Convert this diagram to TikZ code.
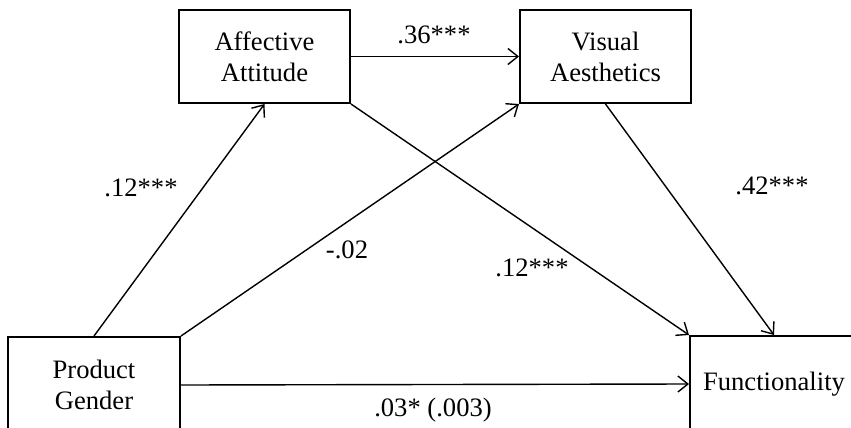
\documentclass[tikz,border=0pt]{standalone}
\usepackage{fontspec}
\setmainfont{Liberation Serif}
\usepackage{tikz}
\usetikzlibrary{arrows.meta}

\begin{document}
\begin{tikzpicture}[x=0.5pt, y=-0.5pt, >={Straight Barb[length=5pt,width=8pt]},
                        var/.style = {draw, line width=1pt, rectangle, align=center, inner sep=0pt, font=\fontsize{13.3}{15.5}\selectfont},
                        path/.style = {->, line width=0.7pt},
                        coef/.style = {font=\fontsize{13.3}{15.5}\selectfont, inner sep=0pt}]

        \useasboundingbox (0,0) rectangle (851,428);

        % variables
        \node[var, minimum width=85.5pt, minimum height=46.5pt] (aff) at (264.5, 56.5) {Affective\\Attitude};
        \node[var, minimum width=85.5pt, minimum height=46.5pt] (vis) at (605.5, 56.5) {Visual\\Aesthetics};
        \node[var, minimum width=86pt, minimum height=48pt] (pg) at (94, 385) {Product\\Gender};
        \node[var, minimum width=84pt, minimum height=48pt] (fun) at (774, 384) {Functionality};

        % paths
        \draw[path] (pg.north) -- (aff.south);
        \draw[path] (pg.north east) -- (vis.south west);
        \draw[path] (aff.east) -- (vis.west);
        \draw[path] (aff.south east) -- (fun.north west);
        \draw[path] (vis.south) -- (fun.north);
        \draw[path] (pg.east) -- (fun.west);

        % coefficients
        \node[coef] (c1) at (141, 188) {.12***};
        \node[coef] (c2) at (347, 250) {-.02};
        \node[coef] (c3) at (434, 35) {.36***};
        \node[coef] (c4) at (532, 268) {.12***};
        \node[coef] (c5) at (772, 186) {.42***};
        \node[coef] (c6) at (433, 410) {.03* (.003)};
    \end{tikzpicture}
\end{document}
